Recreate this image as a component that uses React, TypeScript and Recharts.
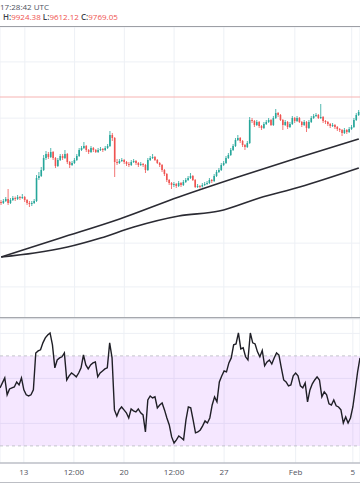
import React from "react";
import {
  ComposedChart,
  Bar,
  Line,
  XAxis,
  YAxis,
  CartesianGrid,
  ReferenceLine,
  ReferenceArea,
} from "recharts";

// 4h candles, index 0 = Jan 11 08:00 UTC
const opens = [
  8088, 8072, 8104, 8136, 8072, 8120, 8152, 8136, 8168, 8152, 8168, 8120, 8072, 8056, 8072, 8104, 8472, 8504, 8600, 8792,
  8856, 8808, 8888, 8792, 8664, 8760, 8824, 8792, 8856, 8728, 8680, 8712, 8760, 8824, 8920, 8952, 8984, 8920, 8888, 8952,
  8920, 8888, 8920, 8936, 8920, 8952, 8984, 9160, 9112, 8728, 8712, 8744, 8760, 8728, 8696, 8680, 8728, 8744, 8712, 8680,
  8696, 8680, 8600, 8760, 8792, 8808, 8760, 8712, 8680, 8600, 8536, 8440, 8392, 8360, 8376, 8344, 8392, 8360, 8408, 8440,
  8472, 8504, 8440, 8328, 8344, 8336, 8360, 8376, 8392, 8440, 8424, 8504, 8568, 8600, 8680, 8712, 8792, 8840, 8920, 8984,
  9080, 9112, 9064, 9000, 8968, 9032, 9400, 9384, 9320, 9368, 9304, 9272, 9336, 9368, 9400, 9320, 9432, 9512, 9480, 9400,
  9320, 9368, 9288, 9336, 9432, 9384, 9432, 9368, 9320, 9368, 9272, 9368, 9432, 9464, 9480, 9432, 9448, 9384, 9368, 9336,
  9304, 9320, 9288, 9256, 9240, 9192, 9240, 9208, 9256, 9288, 9400, 9480,
];
const highs = [
  8120, 8136, 8168, 8296, 8152, 8184, 8176, 8200, 8184, 8216, 8184, 8136, 8104, 8104, 8136, 8520, 8568, 8648, 8840, 8904,
  8888, 8952, 8904, 8808, 8792, 8856, 8856, 8920, 8872, 8744, 8744, 8792, 8856, 8952, 8984, 9048, 9000, 8936, 8984, 8968,
  8936, 8952, 8968, 8952, 8984, 9016, 9224, 9192, 9128, 8776, 8776, 8792, 8776, 8744, 8728, 8760, 8776, 8760, 8728, 8728,
  8712, 8696, 8792, 8824, 8856, 8824, 8776, 8728, 8696, 8616, 8552, 8456, 8408, 8408, 8392, 8424, 8408, 8440, 8472, 8504,
  8552, 8520, 8456, 8376, 8360, 8392, 8408, 8424, 8472, 8456, 8536, 8600, 8632, 8712, 8744, 8824, 8872, 8952, 9016, 9112,
  9160, 9128, 9080, 9016, 9064, 9448, 9432, 9400, 9400, 9384, 9320, 9368, 9400, 9432, 9416, 9464, 9576, 9528, 9496, 9416,
  9400, 9384, 9368, 9464, 9448, 9464, 9448, 9384, 9400, 9384, 9400, 9464, 9496, 9512, 9496, 9656, 9464, 9400, 9384, 9352,
  9352, 9336, 9304, 9272, 9256, 9272, 9256, 9288, 9320, 9432, 9512, 9560,
];
const lows = [
  8040, 8056, 8088, 8040, 8056, 8104, 8104, 8120, 8120, 8136, 8088, 8040, 8008, 8024, 8056, 8088, 8440, 8488, 8584, 8760,
  8776, 8792, 8760, 8632, 8648, 8744, 8760, 8776, 8696, 8632, 8664, 8696, 8744, 8808, 8904, 8936, 8888, 8856, 8872, 8888,
  8872, 8872, 8904, 8888, 8904, 8936, 8968, 9064, 8488, 8680, 8696, 8728, 8696, 8664, 8648, 8664, 8712, 8680, 8648, 8664,
  8648, 8552, 8584, 8744, 8776, 8744, 8696, 8648, 8568, 8504, 8408, 8360, 8296, 8328, 8312, 8328, 8328, 8344, 8392, 8424,
  8456, 8424, 8312, 8312, 8304, 8320, 8344, 8360, 8376, 8392, 8408, 8488, 8552, 8584, 8664, 8696, 8776, 8824, 8904, 8968,
  9064, 9032, 8968, 8920, 8952, 9016, 9352, 9288, 9304, 9272, 9240, 9256, 9320, 9352, 9304, 9304, 9416, 9448, 9384, 9240,
  9304, 9256, 9272, 9320, 9352, 9368, 9352, 9288, 9304, 9208, 9256, 9352, 9416, 9448, 9416, 9416, 9352, 9336, 9304, 9272,
  9288, 9256, 9224, 9208, 9144, 9176, 9176, 9192, 9240, 9272, 9384, 9464,
];
const closes = [
  8072, 8104, 8136, 8072, 8120, 8152, 8136, 8168, 8152, 8168, 8120, 8072, 8056, 8072, 8104, 8472, 8504, 8600, 8792, 8856,
  8808, 8888, 8792, 8664, 8760, 8824, 8792, 8856, 8728, 8680, 8712, 8760, 8824, 8920, 8952, 8984, 8920, 8888, 8952, 8920,
  8888, 8920, 8936, 8920, 8952, 8984, 9160, 9112, 8728, 8712, 8744, 8760, 8728, 8696, 8680, 8728, 8744, 8712, 8680, 8696,
  8680, 8600, 8760, 8792, 8808, 8760, 8712, 8680, 8600, 8536, 8440, 8392, 8360, 8376, 8344, 8392, 8360, 8408, 8440, 8472,
  8504, 8440, 8328, 8344, 8336, 8360, 8376, 8392, 8440, 8424, 8504, 8568, 8600, 8680, 8712, 8792, 8840, 8920, 8984, 9080,
  9112, 9064, 9000, 8968, 9032, 9400, 9384, 9320, 9368, 9304, 9272, 9336, 9368, 9400, 9320, 9432, 9512, 9480, 9400, 9320,
  9368, 9288, 9336, 9432, 9384, 9432, 9368, 9320, 9368, 9272, 9368, 9432, 9464, 9480, 9432, 9448, 9384, 9368, 9336, 9304,
  9320, 9288, 9256, 9240, 9192, 9240, 9208, 9256, 9288, 9400, 9480, 9528,
];
const rsi = [
  55.8, 58, 60.2, 52.7, 55.3, 55.8, 56.2, 58.4, 57.1, 60.2, 54.9, 52.7, 52.2, 52.7, 54.9, 71.3, 72.2, 72.7, 75.8, 78,
  79.3, 80.2, 74.9, 64.7, 68.2, 69.1, 69.6, 71.3, 59.3, 61.1, 62.4, 61.6, 60.7, 62.4, 64.7, 70.4, 66, 64.2, 66, 66.9,
  67.3, 60.7, 62.4, 63.3, 64.2, 64.7, 75.8, 69.1, 46, 43.3, 46, 47.3, 46, 44.7, 42.4, 46.4, 45.6, 45.1, 46.4, 44.7,
  43.8, 36.2, 50.4, 52.2, 51.3, 51.8, 46.9, 48.2, 49.1, 46, 42.4, 39.3, 34, 31.3, 32.7, 34.4, 33.6, 32.7, 41.6, 47.3,
  46.9, 41.6, 35.8, 36.2, 37.1, 38.9, 41.1, 40.2, 42.4, 48.2, 51.8, 49.6, 58.4, 61.1, 63.3, 62.9, 66.9, 69.1, 74.9, 75.3,
  80.2, 73.1, 73.6, 69.6, 68.2, 80.2, 75.8, 75.3, 71.8, 69.6, 72.4, 65.6, 67.3, 68.2, 66.4, 69.1, 71.3, 70.4, 64.7, 59.3,
  58.4, 56.7, 57.1, 61.1, 62.4, 61.1, 56.7, 55.8, 58, 49.6, 54.9, 57.6, 59.3, 60.7, 59.3, 51.8, 54, 52.7, 48.7, 48.2,
  50.4, 47.8, 47.3, 46, 40.2, 42.9, 40.2, 42.4, 47.3, 54.9, 62.9, 69.1,
];

// moving average knots (candle index -> value)
const maFastIdx = [0, 25, 50, 75, 100, 125, 151];
const maFastVal = [7208, 7512, 7816, 8168, 8488, 8792, 9096];
const maSlowIdx = [0, 14, 28, 42, 56, 75, 92, 109, 126, 151];
const maSlowVal = [7208, 7272, 7368, 7512, 7688, 7864, 7944, 8152, 8328, 8632];

const lastPrice = 9768;
const priceGrid = [10660, 10330, 9430, 8630, 7750, 7430, 6730];
const rsiGrid = [40, 60, 80];

const dayTicks = [10, 31, 52, 73, 94, 124, 148];
const dayLabels = ["13", "12:00", "20", "12:00", "27", "Feb", "5"];

const headerTime = "17:28:42 UTC";
const statKeys = ["H:", "L:", "C:"];
const statVals = ["9924.38", "9612.12", "9769.05"];

const GREEN = "#26a69a";
const RED = "#ef5350";
const GRID = "#edf0f5";
const FONT = "'Open Sans', sans-serif";

const table = closes.map((c, i) => {
  const f = maFastIdx.indexOf(i);
  const s = maSlowIdx.indexOf(i);
  return {
    i,
    open: opens[i],
    high: highs[i],
    low: lows[i],
    close: c,
    rsi: rsi[i],
    maFast: f >= 0 ? maFastVal[f] : null,
    maSlow: s >= 0 ? maSlowVal[s] : null,
  };
});

const Candle = (props: any) => {
  const { x, y, width, height, payload } = props;
  if (!payload) return null;
  const cx = x + width / 2;
  const top = Math.min(y, y + height);
  const h = Math.abs(height);
  const { open, close, high, low } = payload;
  const k = high === low ? 0 : h / (high - low);
  const bodyTop = top + (high - Math.max(open, close)) * k;
  const bodyH = Math.max(1, Math.abs(open - close) * k);
  const color = close >= open ? GREEN : RED;
  return (
    <g>
      <line x1={cx} x2={cx} y1={top} y2={top + h} stroke={color} strokeWidth={0.8} />
      <rect x={cx - 0.8} y={bodyTop} width={1.6} height={bodyH} fill={color} />
    </g>
  );
};

const App: React.FC = () => (
  <div style={{ position: "absolute", left: 0, top: 0, width: 360, height: 504, background: "#fff", overflow: "hidden", fontFamily: FONT }}>
    <div style={{ position: "absolute", left: 0, top: 2, fontSize: 8, lineHeight: "10px", color: "#4c525e", whiteSpace: "nowrap" }}>
      {headerTime}
    </div>
    <div style={{ position: "absolute", left: 3, top: 12, fontSize: 8, lineHeight: "10px", whiteSpace: "nowrap" }}>
      {statKeys.map((k, n) => (
        <span key={k}>
          <span style={{ color: "#3c404a", fontWeight: 600 }}>{k}</span>
          <span style={{ color: RED }}>{statVals[n]}</span>
          {n < statKeys.length - 1 ? " " : ""}
        </span>
      ))}
    </div>
    <div style={{ position: "absolute", left: 0, top: 26, width: 360, height: 1, background: "#9d9fa5" }} />

    <div style={{ position: "absolute", left: 0, top: 27 }}>
      <ComposedChart width={360} height={291} data={table} margin={{ top: 0, right: 0, bottom: 0, left: 0 }} barCategoryGap={0}>
        <CartesianGrid stroke={GRID} />
        <XAxis dataKey="i" type="category" hide ticks={dayTicks} interval={0} />
        <YAxis hide domain={[6232, 10888]} allowDataOverflow ticks={priceGrid} />
        <ReferenceLine y={lastPrice} stroke="#f6b3b2" strokeWidth={1} />
        <Bar dataKey={(d: any) => [d.low, d.high]} shape={Candle} isAnimationActive={false} />
        <Line dataKey="maFast" type="monotone" stroke="#2b2b33" strokeWidth={1.6} dot={false} connectNulls isAnimationActive={false} />
        <Line dataKey="maSlow" type="monotone" stroke="#2b2b33" strokeWidth={1.6} dot={false} connectNulls isAnimationActive={false} />
      </ComposedChart>
    </div>

    <div style={{ position: "absolute", left: 0, top: 319 }}>
      <ComposedChart width={360} height={163} data={table} margin={{ top: 0, right: 0, bottom: 0, left: 0 }}>
        <CartesianGrid stroke={GRID} />
        <XAxis
          dataKey="i"
          type="category"
          ticks={dayTicks}
          interval={0}
          height={19}
          tickLine={false}
          tickMargin={0}
          axisLine={{ stroke: "#a3a6af" }}
          tick={{ fontSize: 8, fill: "#50535e", fontFamily: FONT }}
          tickFormatter={(v: any) => dayLabels[dayTicks.indexOf(Number(v))]}
        />
        <YAxis hide domain={[22.4, 86.4]} allowDataOverflow ticks={rsiGrid} />
        <ReferenceArea y1={30} y2={70} fill="#9915ff" fillOpacity={0.1} stroke="none" />
        <ReferenceLine y={70} stroke="#c4c4cc" strokeDasharray="3 3" />
        <ReferenceLine y={30} stroke="#c4c4cc" strokeDasharray="3 3" />
        <Line dataKey="rsi" type="linear" stroke="#1f1f26" strokeWidth={1.4} dot={false} isAnimationActive={false} />
      </ComposedChart>
    </div>

    <div style={{ position: "absolute", left: 0, top: 317, width: 360, height: 1, background: "#a6a8ae" }} />
    <div style={{ position: "absolute", left: 0, top: 318, width: 360, height: 1, background: "#dcdee2" }} />
    <div style={{ position: "absolute", left: 0, top: 482, width: 360, height: 1, background: "#bcbec4" }} />
  </div>
);

export default App;
